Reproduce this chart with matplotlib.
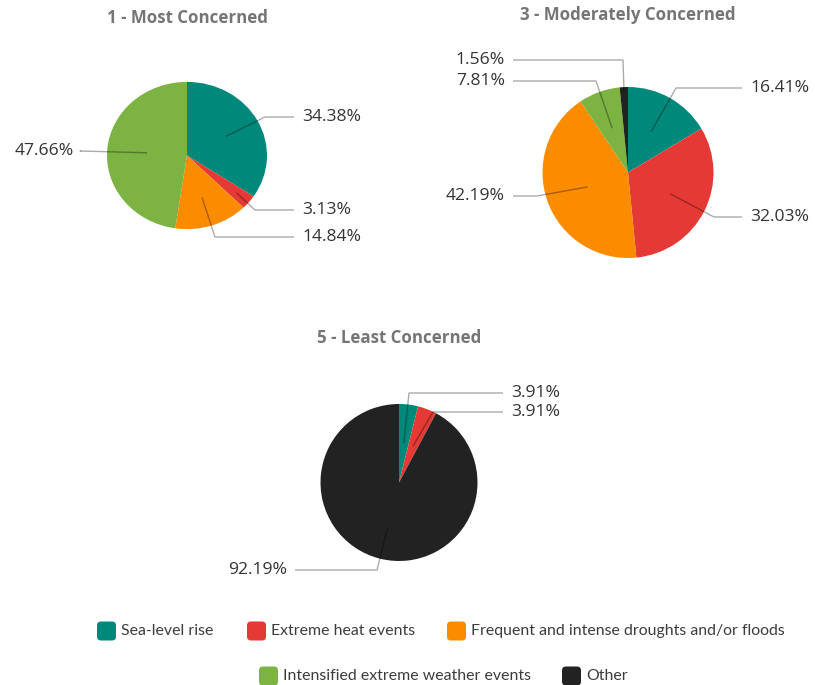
import numpy as np
import matplotlib

matplotlib.use("Agg")
import matplotlib.pyplot as plt
from matplotlib.patches import FancyBboxPatch
from matplotlib.transforms import Affine2D

# Share of respondents per concern level
categories = [
    "Sea-level rise",
    "Extreme heat events",
    "Frequent and intense droughts and/or floods",
    "Intensified extreme weather events",
    "Other",
]
colours = ["#00897b", "#e53935", "#fb8c00", "#7cb342", "#222222"]

titles = ["1 - Most Concerned", "3 - Moderately Concerned", "5 - Least Concerned"]
most_concerned = [34.38, 3.13, 14.84, 47.66, 0.0]
moderately_concerned = [16.41, 32.03, 42.19, 7.81, 1.56]
least_concerned = [3.91, 3.91, 0.0, 0.0, 92.19]

W, H = 815, 685
fig = plt.figure(figsize=(W / 100, H / 100), dpi=100)
ax = fig.add_axes([0, 0, 1, 1])
ax.set_xlim(0, W)
ax.set_ylim(0, H)
ax.set_aspect("equal")
ax.axis("off")

TXT = "#333333"
FONT = "Open Sans"


def py(y):
    # pixel rows count downwards, axes y upwards
    return H - y


# pie layout: centre (px), radius, vertical squash, title y, and per-slice
# label placement (label anchor, side, elbow point, inner fraction)
layouts = [
    {
        "values": most_concerned,
        "centre": (187, 155.5), "radius": 80, "squash": 0.92, "title": 18,
        "labels": {
            0: ((302, 117), "left", (265, 117), 0.55),
            1: ((302, 210), "left", (255, 210), 0.8),
            2: ((302, 237), "left", (215, 237), 0.6),
            3: ((74, 151), "right", (80, 151), 0.5),
        },
    },
    {
        "values": moderately_concerned,
        "centre": (628, 172.5), "radius": 85.5, "squash": 1.0, "title": 15,
        "labels": {
            0: ((750, 88), "left", (676, 88), 0.55),
            1: ((750, 217), "left", (714, 217), 0.55),
            2: ((505, 196), "right", (537, 196), 0.5),
            3: ((505, 81), "right", (596, 81), 0.55),
            4: ((505, 60), "right", (623, 60), 0.95),
        },
    },
    {
        "values": least_concerned,
        "centre": (399, 482.5), "radius": 78.5, "squash": 1.0, "title": 338,
        "labels": {
            0: ((511, 393), "left", (409, 393), 0.5),
            1: ((511, 412), "left", (433, 412), 0.5),
            4: ((287, 570), "right", (377, 570), 0.6),
        },
    },
]

for title, lay in zip(titles, layouts):
    cx, cy = lay["centre"]
    r = lay["radius"]
    sq = lay["squash"]
    vals = lay["values"]
    wedges, _ = ax.pie(
        vals, colors=colours, startangle=90, counterclock=False,
        center=(cx, py(cy)), radius=r, frame=True,
        wedgeprops={"linewidth": 0},
    )
    squash = (Affine2D().translate(-cx, -py(cy)).scale(1, sq)
              .translate(cx, py(cy)))
    for w in wedges:
        w.set_transform(squash + ax.transData)

    ax.text(cx, py(lay["title"]), title, ha="center", va="center",
            fontsize=12.2, fontweight="bold", color="#757575", family=FONT)

    total = sum(vals)
    start = 90.0
    for i, v in enumerate(vals):
        sweep = 360.0 * v / total
        mid = np.deg2rad(start - sweep / 2)
        start -= sweep
        if i not in lay["labels"]:
            continue
        (tx, ty), side, (ex, ey), frac = lay["labels"][i]
        ix = cx + frac * r * np.cos(mid)
        iy = py(cy) + frac * r * sq * np.sin(mid)
        endx = tx - 8 if side == "left" else tx + 8
        ax.plot([ix, ex, endx], [iy, py(ey), py(ty)], color="black",
                alpha=0.33, linewidth=1.0, solid_capstyle="butt")
        ax.text(tx, py(ty), f"{v:.2f}%", ha=side, va="center",
                fontsize=12.6, color=TXT, family=FONT)

ax.set_xlim(0, W)
ax.set_ylim(0, H)

# legend, two centred rows
legend_rows = [
    [(0, 97), (1, 247), (2, 447)],
    [(3, 259), (4, 562)],
]
row_y = [631, 676]
for row, y in zip(legend_rows, row_y):
    for idx, x in row:
        ax.add_patch(FancyBboxPatch(
            (x + 3, py(y) - 6.5), 13, 13,
            boxstyle="round,pad=3,rounding_size=4",
            facecolor=colours[idx], edgecolor="none"))
        ax.text(x + 24, py(y), categories[idx], ha="left", va="center",
                fontsize=11.4, color="#3c3c3c", family="Lato")

fig.savefig("out.png", dpi=100)
